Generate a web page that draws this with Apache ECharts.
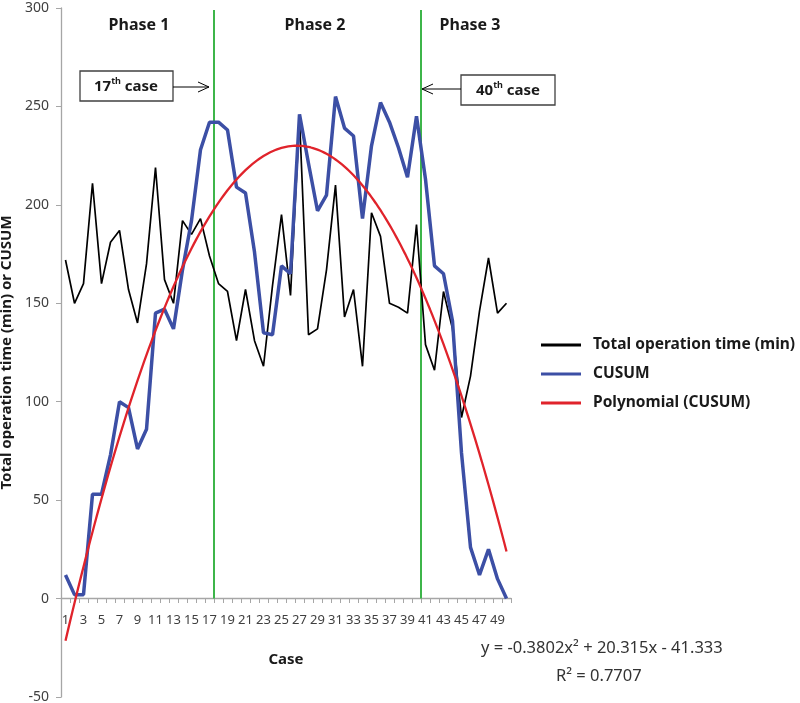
<!DOCTYPE html>
<html><head><meta charset="utf-8">
<script src="https://cdn.jsdelivr.net/npm/echarts@6/dist/echarts.min.js"></script>
<style>html,body{margin:0;padding:0;background:#fff}#c{width:800px;height:703px}</style>
</head><body><div id="c"></div>
<script>
const cases = ['1','2','3','4','5','6','7','8','9','10','11','12','13','14','15','16','17','18','19','20',
  '21','22','23','24','25','26','27','28','29','30','31','32','33','34','35','36','37','38','39','40',
  '41','42','43','44','45','46','47','48','49','50'];
const operationTime = [172,150,160,211,160,181,187,157,140,170,219,162,150,192,185,193,174,160,156,131,
  157,131,118,159,195,154,244,134,137,167,210,143,157,118,196,184,150,148,145,190,
  129,116,156,137,92,113,146,173,145,150];
const cusum = [12,2,2,53,53,73,100,97,76,86,145,147,137,167,192,228,242,242,238,209,
  206,176,135,134,169,165,246,221,197,205,255,239,235,193,230,252,242,229,214,245,
  213,169,165,141,74,26,12,25,10,0];
const polyCoef = [-0.3802, 20.315, -41.333]; // y = a x^2 + b x + c (from the chart's trendline label)
const yMin = -50, yMax = 300, yStep = 50;
const phaseBoundaries = [17, 40];
const phaseLabels = ['Phase 1', 'Phase 2', 'Phase 3'];
const seriesNames = ['Total operation time (min)', 'CUSUM', 'Polynomial (CUSUM)'];

const FONT = "'Noto Sans', 'Open Sans', sans-serif";
const polyPts = [];
for (let x = 1; x <= 50.0001; x += 0.25) {
  polyPts.push([x - 0.5, polyCoef[0]*x*x + polyCoef[1]*x + polyCoef[2]]);
}

const chart = echarts.init(document.getElementById('c'), null, {renderer: 'canvas'});
const gridL = 61, gridR = 800 - 511, gridT = 8, gridB = 703 - 697;
const zeroY = 598; // pixel row of value 0, where the category axis is drawn

const phaseSeries = phaseBoundaries.map((b, i) => ({
  name: 'boundary' + i, type: 'line', xAxisIndex: 1, yAxisIndex: 0,
  data: [[b, 0], [b, 299]], symbol: 'none', silent: true,
  lineStyle: {color: '#3DB54A', width: 2}, z: 1
}));

chart.setOption({
  animation: false,
  backgroundColor: '#fff',
  grid: [
    {left: gridL, right: gridR, top: gridT, bottom: gridB, containLabel: false, outerBoundsMode: 'none'},
    {left: gridL, right: gridR, top: zeroY - 1, height: 1, containLabel: false, outerBoundsMode: 'none'}
  ],
  legend: {
    orient: 'vertical', left: 541, top: 337, padding: 0,
    data: seriesNames.map(n => ({name: n, icon: 'rect'})),
    itemWidth: 40, itemHeight: 3, itemGap: 13,
    textStyle: {fontFamily: FONT, fontWeight: 'bold', fontSize: 15.5, color: '#1a1a1a', padding: [0,0,0,7]}
  },
  xAxis: [{
    gridIndex: 0, type: 'category', data: cases, boundaryGap: true, show: false
  }, {
    gridIndex: 0, type: 'value', min: 0, max: 50, show: false, position: 'top',
    axisLine: {onZero: false}
  }, {
    gridIndex: 1, type: 'category', data: cases, boundaryGap: true, position: 'bottom',
    axisLine: {onZero: false, lineStyle: {color: '#A6A6A6', width: 1.3}},
    axisTick: {show: true, interval: 0, length: 5, lineStyle: {color: '#A6A6A6'}},
    axisLabel: {interval: 1, fontFamily: FONT, fontSize: 13, color: '#404040', margin: 16},
    splitLine: {show: false},
    name: 'Case', nameLocation: 'middle', nameGap: 54,
    nameTextStyle: {fontFamily: FONT, fontWeight: 'bold', fontSize: 15, color: '#1a1a1a'}
  }],
  yAxis: [{
    gridIndex: 0, type: 'value', min: yMin, max: yMax, interval: yStep, position: 'left',
    axisLine: {show: true, onZero: false, lineStyle: {color: '#A6A6A6', width: 1.3}},
    axisTick: {show: true, length: 5, lineStyle: {color: '#A6A6A6'}},
    axisLabel: {fontFamily: FONT, fontSize: 14, color: '#404040', margin: 12},
    splitLine: {show: false},
    name: 'Total operation time (min) or CUSUM', nameLocation: 'middle', nameGap: 41,
    nameTextStyle: {fontFamily: FONT, fontWeight: 'bold', fontSize: 15, color: '#1a1a1a'}
  }, {
    gridIndex: 1, type: 'value', min: 0, max: 1, show: false
  }],
  series: [
    ...phaseSeries,
    {name: seriesNames[0], type: 'line', xAxisIndex: 0, yAxisIndex: 0, data: operationTime, symbol: 'none',
     lineStyle: {color: '#000', width: 1.7}, itemStyle: {color: '#000'}, z: 3},
    {name: seriesNames[1], type: 'line', xAxisIndex: 0, yAxisIndex: 0, data: cusum, symbol: 'none',
     lineStyle: {color: '#3C4FA5', width: 3.5}, itemStyle: {color: '#3C4FA5'}, z: 4},
    {name: seriesNames[2], type: 'line', xAxisIndex: 1, yAxisIndex: 0, data: polyPts, symbol: 'none',
     lineStyle: {color: '#E0232B', width: 2.3}, itemStyle: {color: '#E0232B'}, z: 5}
  ],
  graphic: [
    {type: 'text', x: 139, y: 25, style: {text: phaseLabels[0], font: 'bold 16px ' + FONT, fill: '#1a1a1a', textAlign: 'center', textVerticalAlign: 'middle'}},
    {type: 'text', x: 315, y: 25, style: {text: phaseLabels[1], font: 'bold 16px ' + FONT, fill: '#1a1a1a', textAlign: 'center', textVerticalAlign: 'middle'}},
    {type: 'text', x: 470, y: 25, style: {text: phaseLabels[2], font: 'bold 16px ' + FONT, fill: '#1a1a1a', textAlign: 'center', textVerticalAlign: 'middle'}},
    {type: 'rect', shape: {x: 80, y: 71, width: 93, height: 30}, style: {fill: '#fff', stroke: '#404040', lineWidth: 1.3}},
    {type: 'text', x: 126, y: 87, style: {text: '{b|17}{s|th}{b| case}', textAlign: 'center', textVerticalAlign: 'middle', fill: '#1a1a1a',
      rich: {b: {fontFamily: FONT, fontWeight: 'bold', fontSize: 15, fill: '#1a1a1a', lineHeight: 20}, s: {fontFamily: FONT, fontWeight: 'bold', fontSize: 9, fill: '#1a1a1a', verticalAlign: 'top', lineHeight: 12}}}},
    {type: 'line', shape: {x1: 173, y1: 87, x2: 209, y2: 87}, style: {stroke: '#000', lineWidth: 1}},
    {type: 'polyline', shape: {points: [[198, 82], [209, 87], [198, 92]]}, style: {stroke: '#000', fill: null, lineWidth: 1}},
    {type: 'rect', shape: {x: 461, y: 75, width: 94, height: 30}, style: {fill: '#fff', stroke: '#404040', lineWidth: 1.3}},
    {type: 'text', x: 508, y: 91, style: {text: '{b|40}{s|th}{b| case}', textAlign: 'center', textVerticalAlign: 'middle', fill: '#1a1a1a',
      rich: {b: {fontFamily: FONT, fontWeight: 'bold', fontSize: 15, fill: '#1a1a1a', lineHeight: 20}, s: {fontFamily: FONT, fontWeight: 'bold', fontSize: 9, fill: '#1a1a1a', verticalAlign: 'top', lineHeight: 12}}}},
    {type: 'line', shape: {x1: 461, y1: 89, x2: 422, y2: 89}, style: {stroke: '#000', lineWidth: 1}},
    {type: 'polyline', shape: {points: [[433, 84], [422, 89], [433, 94]]}, style: {stroke: '#000', fill: null, lineWidth: 1}},
    {type: 'text', x: 481, y: 648, style: {text: 'y = -0.3802x² + 20.315x - 41.333', font: '16.5px ' + FONT, fill: '#333', textAlign: 'left', textVerticalAlign: 'middle'}},
    {type: 'text', x: 556, y: 676, style: {text: 'R² = 0.7707', font: '16.5px ' + FONT, fill: '#333', textAlign: 'left', textVerticalAlign: 'middle'}}
  ]
});
</script></body></html>
